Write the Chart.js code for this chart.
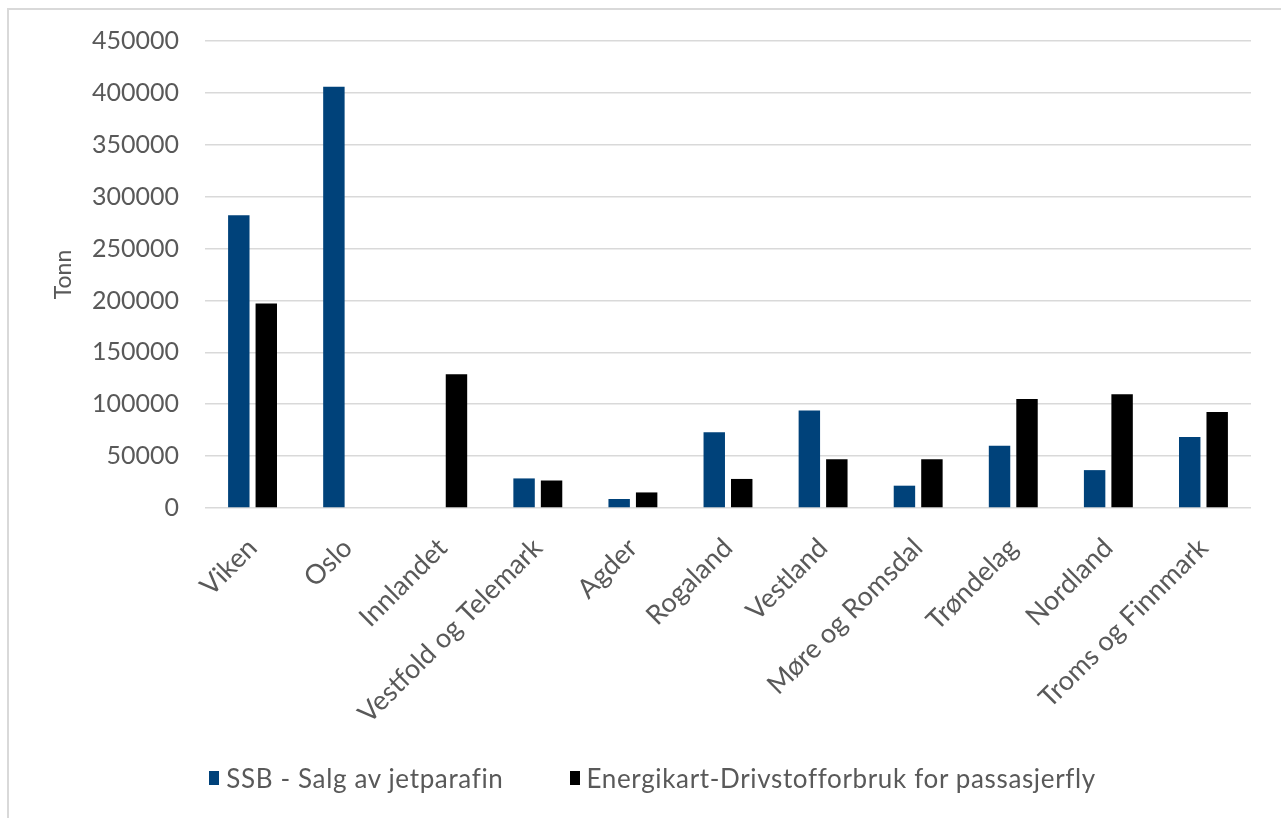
<!DOCTYPE html>
<html>
<head>
<meta charset="utf-8">
<script src="https://cdn.jsdelivr.net/npm/chart.js@4.4.1/dist/chart.umd.min.js"></script>
<style>
  html, body { margin: 0; padding: 0; background: #fff; }
  #wrap { position: relative; width: 1281px; height: 818px; overflow: hidden; }
  #frame { position: absolute; left: 7px; top: 8px; right: -10px; bottom: -10px;
           border-left: 2px solid #d9d9d9; border-top: 2px solid #d9d9d9; }
  #legend { position: absolute; top: 762px; left: 0; width: 1281px; display: flex;
            justify-content: center; gap: 66px; font-family: Lato, sans-serif;
            font-size: 26px; letter-spacing: 0.65px; color: #595959; padding-left: 24px;
            box-sizing: border-box; }
  #legend span.item { display: flex; align-items: center; }
  #legend i { display: inline-block; width: 10px; height: 14px; margin-right: 7px; }
</style>
</head>
<body>
<div id="wrap">
  <div id="frame"></div>
  <canvas id="fuelChart" width="1281" height="818"></canvas>
  <div id="legend"></div>
</div>
<script>
// ===== Jet fuel per county =====

const regions = ["Viken", "Oslo", "Innlandet", "Vestfold og Telemark", "Agder", "Rogaland",
  "Vestland", "Møre og Romsdal", "Trøndelag", "Nordland", "Troms og Finnmark"];

const ssbSales = [282000, 406000, null, 28500, 8700, 73000, 94000, 21500, 60000, 36500, 68500];
const energikartUse = [197000, null, 129000, 26500, 15000, 28000, 47000, 47000, 105000, 109500, 92500];

const seriesNames = ["SSB - Salg av jetparafin", "Energikart-Drivstofforbruk for passasjerfly"];
const seriesColors = ["#00427a", "#000000"];

const yTicks = { min: 0, max: 450000, step: 50000 };

const textColor = "#595959";
const gridColor = "#d9d9d9";

const ctx = document.getElementById("fuelChart").getContext("2d");

const chart = new Chart(ctx, {
  type: "bar",
  data: {
    labels: regions,
    datasets: [
      { label: seriesNames[0], data: ssbSales, backgroundColor: seriesColors[0] },
      { label: seriesNames[1], data: energikartUse, backgroundColor: seriesColors[1] }
    ]
  },
  options: {
    responsive: false,
    animation: false,
    categoryPercentage: 0.578,
    barPercentage: 0.78,
    layout: { padding: { left: 50, right: 30, top: 40, bottom: 0 } },
    plugins: {
      legend: { display: false },
      tooltip: { enabled: false }
    },
    scales: {
      x: {
        grid: { display: false },
        border: { display: false },
        ticks: {
          color: textColor,
          font: { family: "Lato", size: 27 },
          minRotation: 45,
          maxRotation: 45,
          padding: 16
        },
        afterFit(scale) { scale.height = 310; }
      },
      y: {
        min: yTicks.min,
        max: yTicks.max,
        border: { display: false },
        grid: { color: gridColor, lineWidth: 1.5, drawTicks: false },
        ticks: {
          stepSize: yTicks.step,
          color: textColor,
          font: { family: "Lato", size: 25 },
          padding: 26,
          callback: v => String(v)
        },
        title: {
          display: true,
          text: "Tonn",
          color: textColor,
          font: { family: "Lato", size: 23 },
          padding: 0
        },
        afterFit(scale) { scale.width = 155; }
      }
    }
  }
});

// Legend below the chart
const legend = document.getElementById("legend");
seriesNames.forEach((name, i) => {
  const item = document.createElement("span");
  item.className = "item";
  item.innerHTML = `<i style="background:${seriesColors[i]}"></i>${name}`;
  legend.appendChild(item);
});
</script>
</body>
</html>
